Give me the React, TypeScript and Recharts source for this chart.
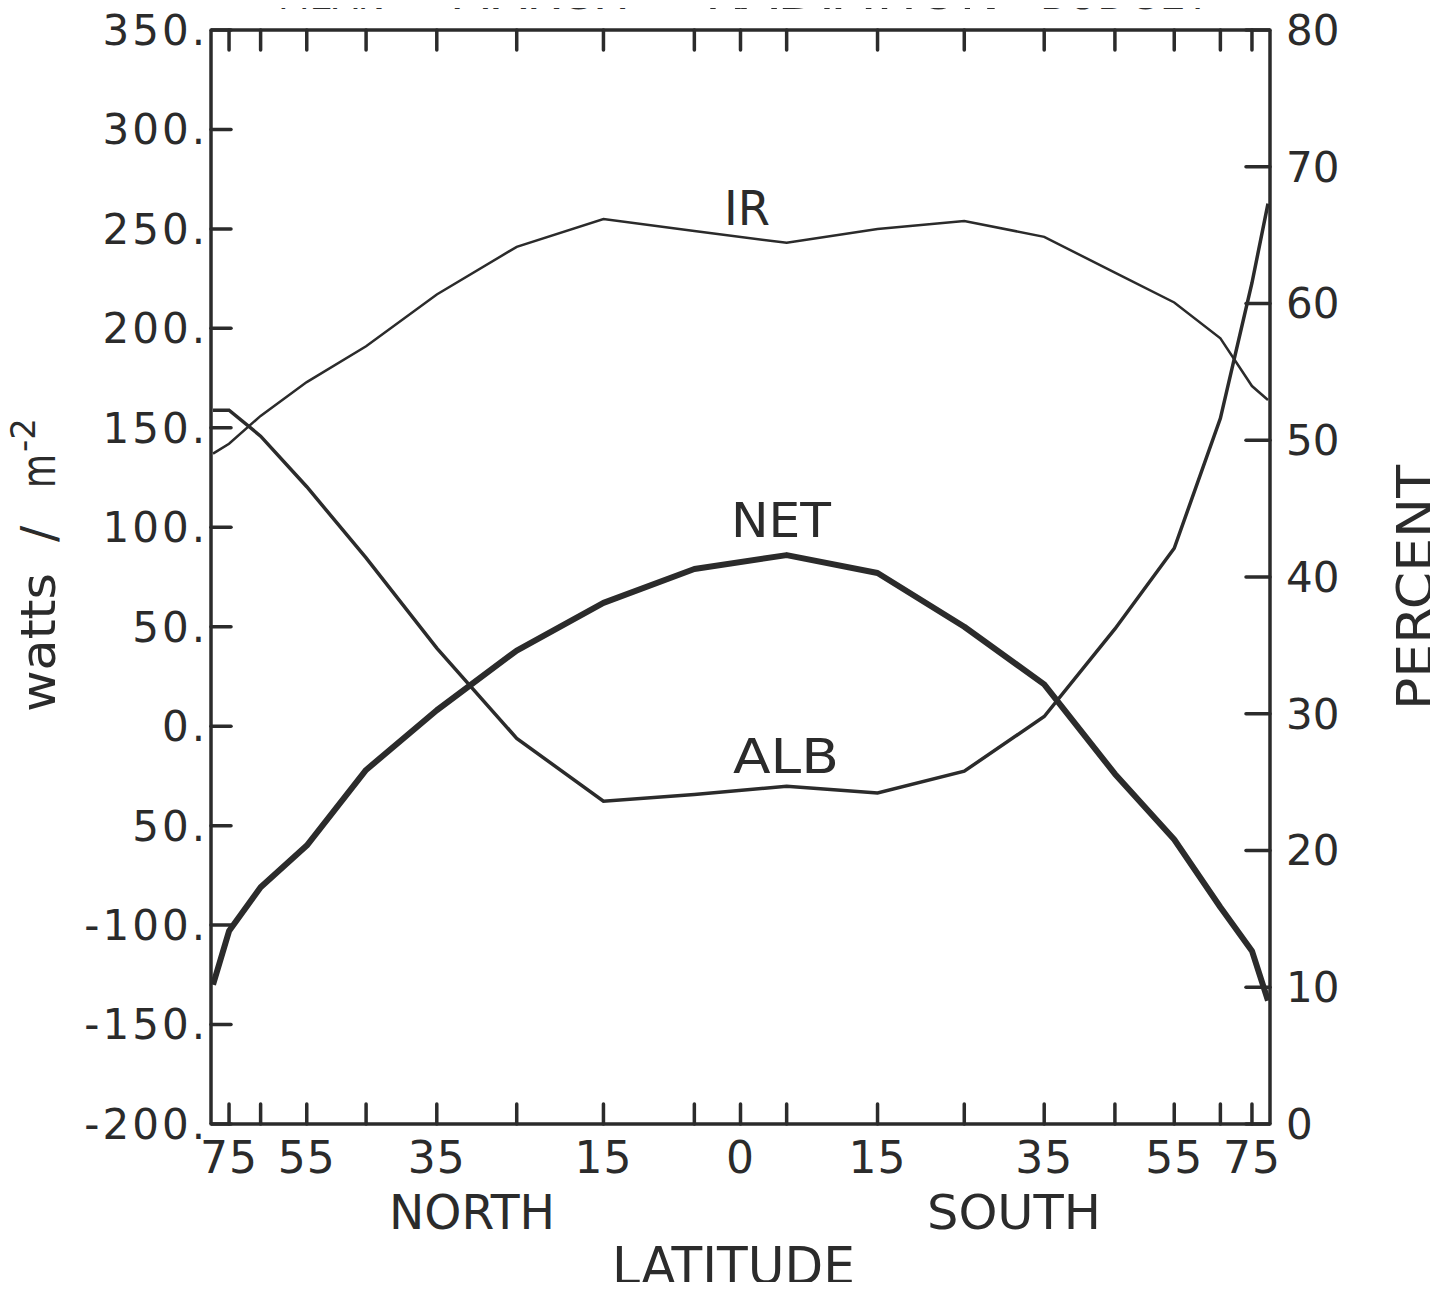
import { LineChart, Line, XAxis, YAxis } from "recharts";

// latitude band centres, north positive
const latitudes = [85, 75, 65, 55, 45, 35, 25, 15, 5, -5, -15, -25, -35, -45, -55, -65, -75, -85];
// outgoing infrared, watts / m^2
const irFlux = [137, 142, 156, 173, 191, 217, 241, 255, 249, 243, 250, 254, 246, 228, 213, 195, 171, 164];
// net radiation, watts / m^2
const netFlux = [-130, -103, -81, -60, -22, 8, 38, 62, 79, 86, 77, 50, 21, -24, -57, -91, -113, -138];
// albedo, percent
const albedo = [52.2, 52.2, 50.3, 46.6, 41.4, 34.8, 28.2, 23.6, 24.1, 24.7, 24.2, 25.8, 29.8, 36.2, 42.1, 51.6, 61.5, 67.3];

const latTicks = [75, 65, 55, 45, 35, 25, 15, 5, 0, -5, -15, -25, -35, -45, -55, -65, -75];
const latLabelled = [75, 55, 35, 15, 0, -15, -35, -55, -75];
const wattTicks = [350, 300, 250, 200, 150, 100, 50, 0, -50, -100, -150, -200];
const wattLabels = ["350.", "300.", "250.", "200.", "150.", "100.", "50.", "0.", "50.", "-100.", "-150.", "-200."];
const percentTicks = [0, 10, 20, 30, 40, 50, 60, 70, 80];

const INK = "#2b2b2b";
const FONT = "'DejaVu Sans', sans-serif";

// the latitude axis is linear in sin(latitude) (equal-area)
const sinLat = (lat: number) => Math.sin((lat * Math.PI) / 180);

const data = latitudes.map((lat, i) => ({
  lat,
  s: sinLat(lat),
  ir: irFlux[i],
  net: netFlux[i],
  alb: albedo[i],
}));

const latTickValues = latTicks.map(sinLat);

const latLabel = (v: number) => {
  const lat = Math.round((Math.asin(v) * 180) / Math.PI);
  return latLabelled.includes(lat) ? String(Math.abs(lat)) : "";
};

const wattLabel = (v: number) => {
  const i = wattTicks.indexOf(v);
  return i >= 0 ? wattLabels[i] : "";
};

const tickLine = { stroke: INK, strokeWidth: 3.5, strokeLinecap: "round" as const };
const axisLine = { stroke: INK, strokeWidth: 3.5 };

function Overlay() {
  const t = { fill: INK, fontFamily: FONT } as const;
  return (
    <svg
      width={1438}
      height={1290}
      style={{ position: "absolute", left: 0, top: 0, pointerEvents: "none" }}
    >
      {/* title, cut off by the top edge in the original */}
      <text {...t} x={278} y={9} fontSize={46} textLength={107} lengthAdjust="spacingAndGlyphs">MEAN</text>
      <text {...t} x={450} y={9} fontSize={46} textLength={180} lengthAdjust="spacingAndGlyphs">MARCH</text>
      <text {...t} x={705} y={9} fontSize={46} textLength={295} lengthAdjust="spacingAndGlyphs">RADIATION</text>
      <text {...t} x={1040} y={9} fontSize={46} textLength={170} lengthAdjust="spacingAndGlyphs">BUDGET</text>

      <text {...t} x={724} y={225} fontSize={48} textLength={46} lengthAdjust="spacingAndGlyphs">IR</text>
      <text {...t} x={731} y={537} fontSize={48} textLength={100} lengthAdjust="spacingAndGlyphs">NET</text>
      <text {...t} x={733} y={773} fontSize={48} textLength={106} lengthAdjust="spacingAndGlyphs">ALB</text>

      <text {...t} x={389} y={1229} fontSize={48} textLength={166} lengthAdjust="spacingAndGlyphs">NORTH</text>
      <text {...t} x={927} y={1229} fontSize={48} textLength={174} lengthAdjust="spacingAndGlyphs">SOUTH</text>
      <text {...t} x={612} y={1284} fontSize={52} textLength={243} lengthAdjust="spacingAndGlyphs">LATITUDE</text>

      <g transform="translate(55,712) rotate(-90)">
        <text {...t} x={0} y={0} fontSize={48} textLength={139} lengthAdjust="spacingAndGlyphs">watts</text>
        <text {...t} x={170} y={0} fontSize={48}>/</text>
        <text {...t} x={224} y={0} fontSize={48} textLength={34} lengthAdjust="spacingAndGlyphs">m</text>
        <text {...t} x={260} y={-20} fontSize={34}>-2</text>
      </g>
      <g transform="translate(1432,710) rotate(-90)">
        <text {...t} x={0} y={0} fontSize={50} textLength={245} lengthAdjust="spacingAndGlyphs">PERCENT</text>
      </g>
    </svg>
  );
}

export default function App() {
  return (
    <div style={{ position: "relative", width: 1438, height: 1290, margin: -8, background: "#fff" }}>
      <LineChart
        width={1438}
        height={1290}
        data={data}
        margin={{ top: 29, right: 48, bottom: 16, left: 91 }}
      >
        <XAxis
          xAxisId="b"
          type="number"
          dataKey="s"
          domain={[-1, 1]}
          reversed
          ticks={latTickValues}
          interval={0}
          tickFormatter={latLabel}
          height={150}
          tickSize={-20}
          tickMargin={38}
          axisLine={axisLine}
          tickLine={tickLine}
          tick={{ fill: INK, fontSize: 44, fontFamily: FONT, letterSpacing: 1 }}
        />
        <XAxis
          xAxisId="t"
          orientation="top"
          type="number"
          dataKey="s"
          domain={[-1, 1]}
          reversed
          ticks={latTickValues}
          interval={0}
          height={1}
          tickSize={-20}
          tickFormatter={() => ""}
          axisLine={axisLine}
          tickLine={tickLine}
        />
        <YAxis
          yAxisId="w"
          type="number"
          domain={[-200, 350]}
          ticks={wattTicks}
          interval={0}
          tickFormatter={wattLabel}
          width={120}
          tickSize={-20}
          tickMargin={23}
          axisLine={axisLine}
          tickLine={tickLine}
          tick={{ fill: INK, fontSize: 42, fontFamily: FONT, letterSpacing: 3 }}
        />
        <YAxis
          yAxisId="p"
          orientation="right"
          type="number"
          domain={[0, 80]}
          ticks={percentTicks}
          interval={0}
          width={120}
          tickSize={-24}
          tickMargin={40}
          axisLine={axisLine}
          tickLine={tickLine}
          tick={{ fill: INK, fontSize: 42, fontFamily: FONT }}
        />
        <Line
          xAxisId="b"
          yAxisId="w"
          type="linear"
          dataKey="ir"
          stroke={INK}
          strokeWidth={2.5}
          dot={false}
          isAnimationActive={false}
        />
        <Line
          xAxisId="b"
          yAxisId="p"
          type="linear"
          dataKey="alb"
          stroke={INK}
          strokeWidth={3.5}
          dot={false}
          isAnimationActive={false}
        />
        <Line
          xAxisId="b"
          yAxisId="w"
          type="linear"
          dataKey="net"
          stroke={INK}
          strokeWidth={6}
          strokeLinejoin="round"
          dot={false}
          isAnimationActive={false}
        />
        <Line
          xAxisId="t"
          yAxisId="w"
          type="linear"
          dataKey="ir"
          stroke="none"
          strokeWidth={0}
          dot={false}
          activeDot={false}
          legendType="none"
          isAnimationActive={false}
        />
      </LineChart>
      <Overlay />
    </div>
  );
}
